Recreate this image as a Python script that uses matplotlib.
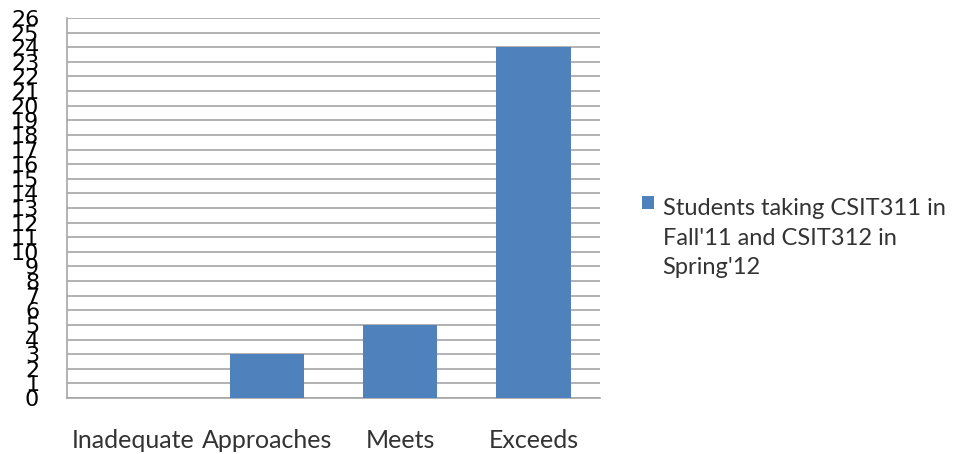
import numpy as np
import matplotlib.pyplot as plt
from matplotlib.patches import Rectangle
from matplotlib.legend_handler import HandlerPatch

categories = ["Inadequate", "Approaches", "Meets", "Exceeds"]
students = [0, 3, 5, 24]
series_name = "Students taking CSIT311 in\nFall'11 and CSIT312 in\nSpring'12"

plt.rcParams['font.family'] = ['Lato', 'DejaVu Sans']

LEG_SIZE = 17
LEG_SPACING = 1.5


def top_line_square(legend, orig_handle, xdescent, ydescent, width, height, fontsize):
    # put the colour square next to the first line of the wrapped label
    return Rectangle((-xdescent, -ydescent + fontsize * LEG_SPACING * 1.02), width, height)


fig = plt.figure(figsize=(9.61, 4.54), dpi=100)
ax = fig.add_axes([67 / 961, 56 / 454, 533 / 961, 380 / 454])

x = np.arange(len(categories))
bars = ax.bar(x, students, width=0.56, color='#4F81BD', zorder=3)

ax.set_xlim(-0.5, len(categories) - 0.5)
ax.set_ylim(0, 26)
ax.set_yticks(range(0, 27))
ax.yaxis.grid(True, color='#A6A6A6', linewidth=1.2, zorder=0)

for s in ['top', 'right']:
    ax.spines[s].set_visible(False)
for s in ['left', 'bottom']:
    ax.spines[s].set_color('#A6A6A6')
    ax.spines[s].set_linewidth(1.2)

ax.set_xticks(x)
ax.set_xticklabels(categories, fontsize=18, color='#333333')
ax.tick_params(axis='x', length=0, pad=22)
ax.tick_params(axis='y', length=0, pad=20, labelsize=16)
for lbl in ax.get_yticklabels():
    lbl.set_fontfamily('DejaVu Sans')

leg = ax.legend(handles=[bars.patches[0]], labels=[series_name],
                loc='center left', bbox_to_anchor=(1.062, 0.42), frameon=False,
                fontsize=LEG_SIZE, handlelength=0.5, handleheight=0.5, handletextpad=0.35,
                borderaxespad=0, handler_map={Rectangle: HandlerPatch(patch_func=top_line_square)})
for t in leg.get_texts():
    t.set_linespacing(LEG_SPACING)
    t.set_color('#333333')

fig.savefig("out.png", dpi=100)
